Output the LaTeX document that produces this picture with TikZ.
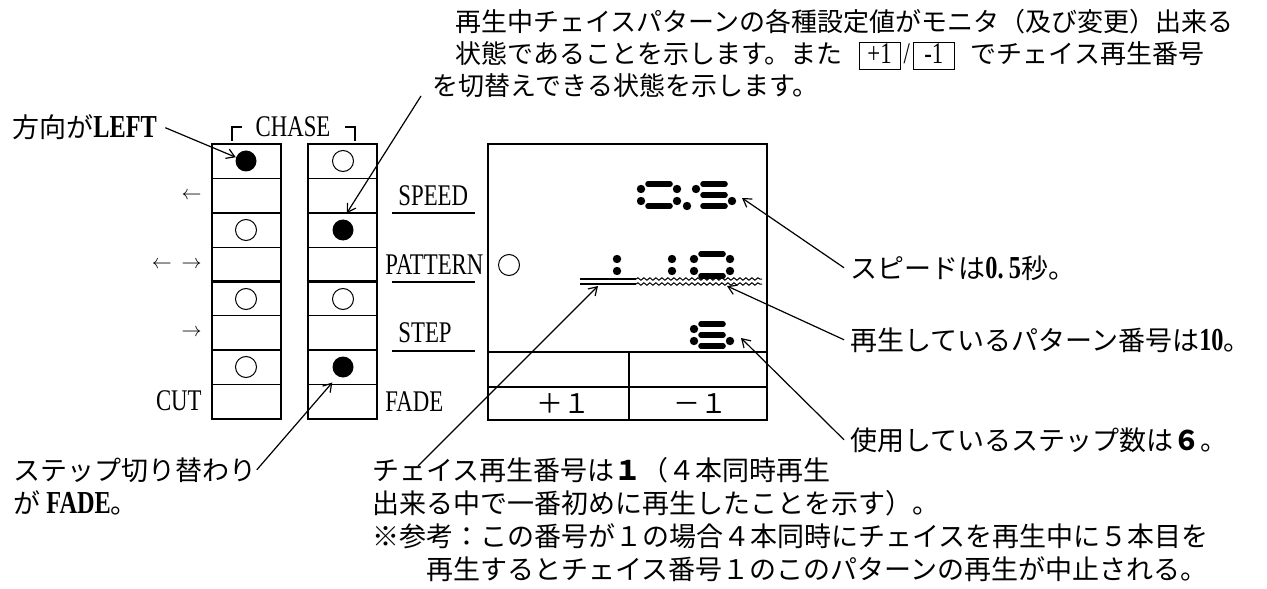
\documentclass[tikz,border=0pt]{standalone}
\usepackage{fontspec}
\setmainfont{Liberation Serif}
\newfontfamily\jpfont{Noto Sans CJK JP}
\newfontfamily\condfont{Liberation Serif}[FakeStretch=0.76]
\usetikzlibrary{positioning,decorations.pathmorphing,arrows.meta}

\tikzstyle{jp}=[font={\jpfont\fontsize{13.5bp}{16bp}\selectfont}, inner sep=0pt, anchor=base west]
\tikzstyle{jptop}=[jp, font={\jpfont\fontsize{13bp}{16bp}\selectfont}]
\tikzstyle{lab}=[font={\condfont\fontsize{15bp}{16bp}\selectfont}, inner sep=0pt]
\tikzstyle{cell}=[line width=0.8bp]
\tikzstyle{lampon}=[circle, fill=black, minimum size=10.5bp, inner sep=0pt]
\tikzstyle{lampoff}=[circle, draw, line width=0.5bp, minimum size=10.5bp, inner sep=0pt]
\tikzstyle{lead}=[-{Straight Barb[length=4bp,width=5bp]}, line width=0.6bp]
\tikzstyle{seg}=[line width=2.8bp, line cap=round]
\tikzstyle{wavy}=[line width=0.5bp, decorate, decoration={snake, amplitude=0.6bp, segment length=3bp}]

% segments of the lcd digits, local pixel units
\newcommand\segbar[1]{\draw[seg] (7,#1) -- (29,#1);}
\newcommand\segdot[2]{\fill (#1,#2) circle (2.1bp);}
\newcommand\digzero{\segbar{0}\segbar{22}\segdot{0}{5}\segdot{36}{5}\segdot{0}{17}\segdot{36}{17}}
\newcommand\digone{\segdot{36}{5}\segdot{36}{17}}
\newcommand\digfive{\segbar{0}\segbar{11}\segbar{22}\segdot{0}{5}\segdot{36}{17}}
\newcommand\digsix{\segbar{0}\segbar{11}\segbar{22}\segdot{0}{5}\segdot{0}{17}\segdot{36}{17}}
\newcommand\bnum[1]{{\condfont\bfseries\fontsize{16bp}{16bp}\selectfont #1}}
\newcommand\keybox[1]{{\fboxsep=0pt\fboxrule=0.5bp\fbox{\rule[-2.5bp]{0pt}{13bp}\makebox[20bp][c]{\condfont\fontsize{15bp}{16bp}\selectfont #1}}}}

\begin{document}
\begin{tikzpicture}[x=0.5bp, y=-0.5bp]
    \useasboundingbox (0,0) rectangle (1267,589);

    % chase columns
    \foreach \cx in {212,308}{
        \draw[cell] (\cx,144) rectangle ++(69,275);
        \foreach \k in {1,3,5,7}
            \draw[line width=0.6bp] (\cx,144+34.375*\k) -- ++(69,0);
        \foreach \k in {2,4,6}
            \draw[line width=1.1bp] (\cx,144+34.375*\k) -- ++(69,0);
    }
    \foreach \n/\cy/\sl/\sr in {1/161/lampon/lampoff, 2/230/lampoff/lampon,
            3/299/lampoff/lampoff, 4/367/lampoff/lampon}{
        \node[\sl] (lampL\n) at (246,\cy) {};
        \node[\sr] (lampR\n) at (343,\cy) {};
    }

    \node[lab, anchor=base] (chase) at (293,137) {CHASE};
    \draw[line width=0.6bp] (232,141) -- (232,127) -- (242,127);
    \draw[line width=0.6bp] (345,127) -- (355,127) -- (355,141);

    \node[anchor=east, inner sep=0pt, font=\fontsize{10bp}{12bp}\selectfont] (dl) at (202,196) {$\leftarrow$};
    \node[anchor=east, inner sep=0pt, font=\fontsize{10bp}{12bp}\selectfont] (dlr) at (202,265) {$\leftarrow$\hspace{5bp}$\rightarrow$};
    \node[anchor=east, inner sep=0pt, font=\fontsize{10bp}{12bp}\selectfont] (dr) at (202,333) {$\rightarrow$};
    \node[lab, anchor=base east] (cut) at (202,410) {CUT};

    \node[lab, anchor=base west] (speed) at (398,205) {SPEED};
    \node[lab, anchor=base west] (pattern) at (385,274) {PATTERN};
    \node[lab, anchor=base west] (step) at (398,342) {STEP};
    \node[lab, anchor=base west] (fade) at (385,411) {FADE};
    \foreach \uy in {213,282,351}
        \draw[line width=0.6bp] (392,\uy) -- (475,\uy);

    % display
    \draw[cell] (488,144) rectangle (767,420);
    \draw[cell] (488,352) -- (767,352);
    \draw[line width=0.6bp] (488,387) -- (767,387);
    \draw[line width=0.6bp] (629,352) -- (629,420);
    \node[jp, anchor=base] (plus) at (563,413) {＋１};
    \node[jp, anchor=base] (minus) at (700,413) {－１};
    \node[lampoff] (ind) at (509,265) {};

    \begin{scope}[shift={(641,184)}] \digzero \end{scope}
    \fill (687,206) circle (2.1bp);
    \begin{scope}[shift={(696,184)}] \digfive \end{scope}
    \begin{scope}[shift={(581,254)}] \digone \end{scope}
    \begin{scope}[shift={(636,254)}] \digone \end{scope}
    \begin{scope}[shift={(694,254)}] \digzero \end{scope}
    \begin{scope}[shift={(694,324)}] \digsix \end{scope}

    \draw[line width=0.6bp] (580,279) -- (636,279) (580,284) -- (636,284);
    \draw[wavy] (636,279) -- (762,279);
    \draw[wavy] (636,284) -- (762,284);

    \coordinate (dspd) at (742,198);
    \coordinate (dpat) at (727,286);
    \coordinate (dstp) at (741,338);
    \coordinate (uline1) at (598,286);

    % texts
    \node[jptop] (top1) at (455,32) {再生中チェイスパターンの各種設定値がモニタ（及び変更）出来る};
    \node[jptop] (top2) at (455,64) {状態であることを示します。また\hspace{8bp}\keybox{+1}\hspace{1.5bp}{\condfont\fontsize{15bp}{16bp}\selectfont /}\hspace{1.5bp}\keybox{-1}\hspace{8bp}でチェイス再生番号};
    \node[jptop] (top3) at (432,96) {を切替えできる状態を示します。};
    \coordinate (slashtop) at (421,96);

    \node[jp] (hoko) at (12,138) {方向が\bnum{LEFT}};

    \node[jp] (spd) at (850,278) {スピードは\bnum{0.\,5}秒。};
    \node[jp] (pat) at (850,350) {再生しているパターン番号は\bnum{10}。};
    \node[jp] (stp) at (850,450) {使用しているステップ数は{\bfseries ６}。};

    \node[jp] (stepsw1) at (13,480) {ステップ切り替わり};
    \node[jp] (stepsw2) at (13,513) {が \bnum{FADE}。};

    \node[jp] (ch1) at (372,480) {チェイス再生番号は{\bfseries １}（４本同時再生};
    \node[jp] (ch2) at (372,513) {出来る中で一番初めに再生したことを示す）。};
    \node[jp] (ch3) at (372,546) {※参考：この番号が１の場合４本同時にチェイスを再生中に５本目を};
    \node[jp] (ch4) at (426,579) {再生するとチェイス番号１のこのパターンの再生が中止される。};
    \coordinate (chfoot) at (418,466);

    % leaders
    \draw[lead] ([xshift=4bp]hoko.east) -- (lampL1.160);
    \draw[lead, shorten >=3.5bp] (slashtop) -- (lampR2.north);
    \draw[lead, shorten >=4bp] (stepsw1.east) -- (lampR4.240);
    \draw[lead] (chfoot) -- (uline1);
    \draw[lead] ([xshift=-3bp]spd.west) -- (dspd);
    \draw[lead] ([xshift=-3bp]pat.west) -- (dpat);
    \draw[lead] ([xshift=-3bp]stp.west) -- (dstp);

\end{tikzpicture}
\end{document}
